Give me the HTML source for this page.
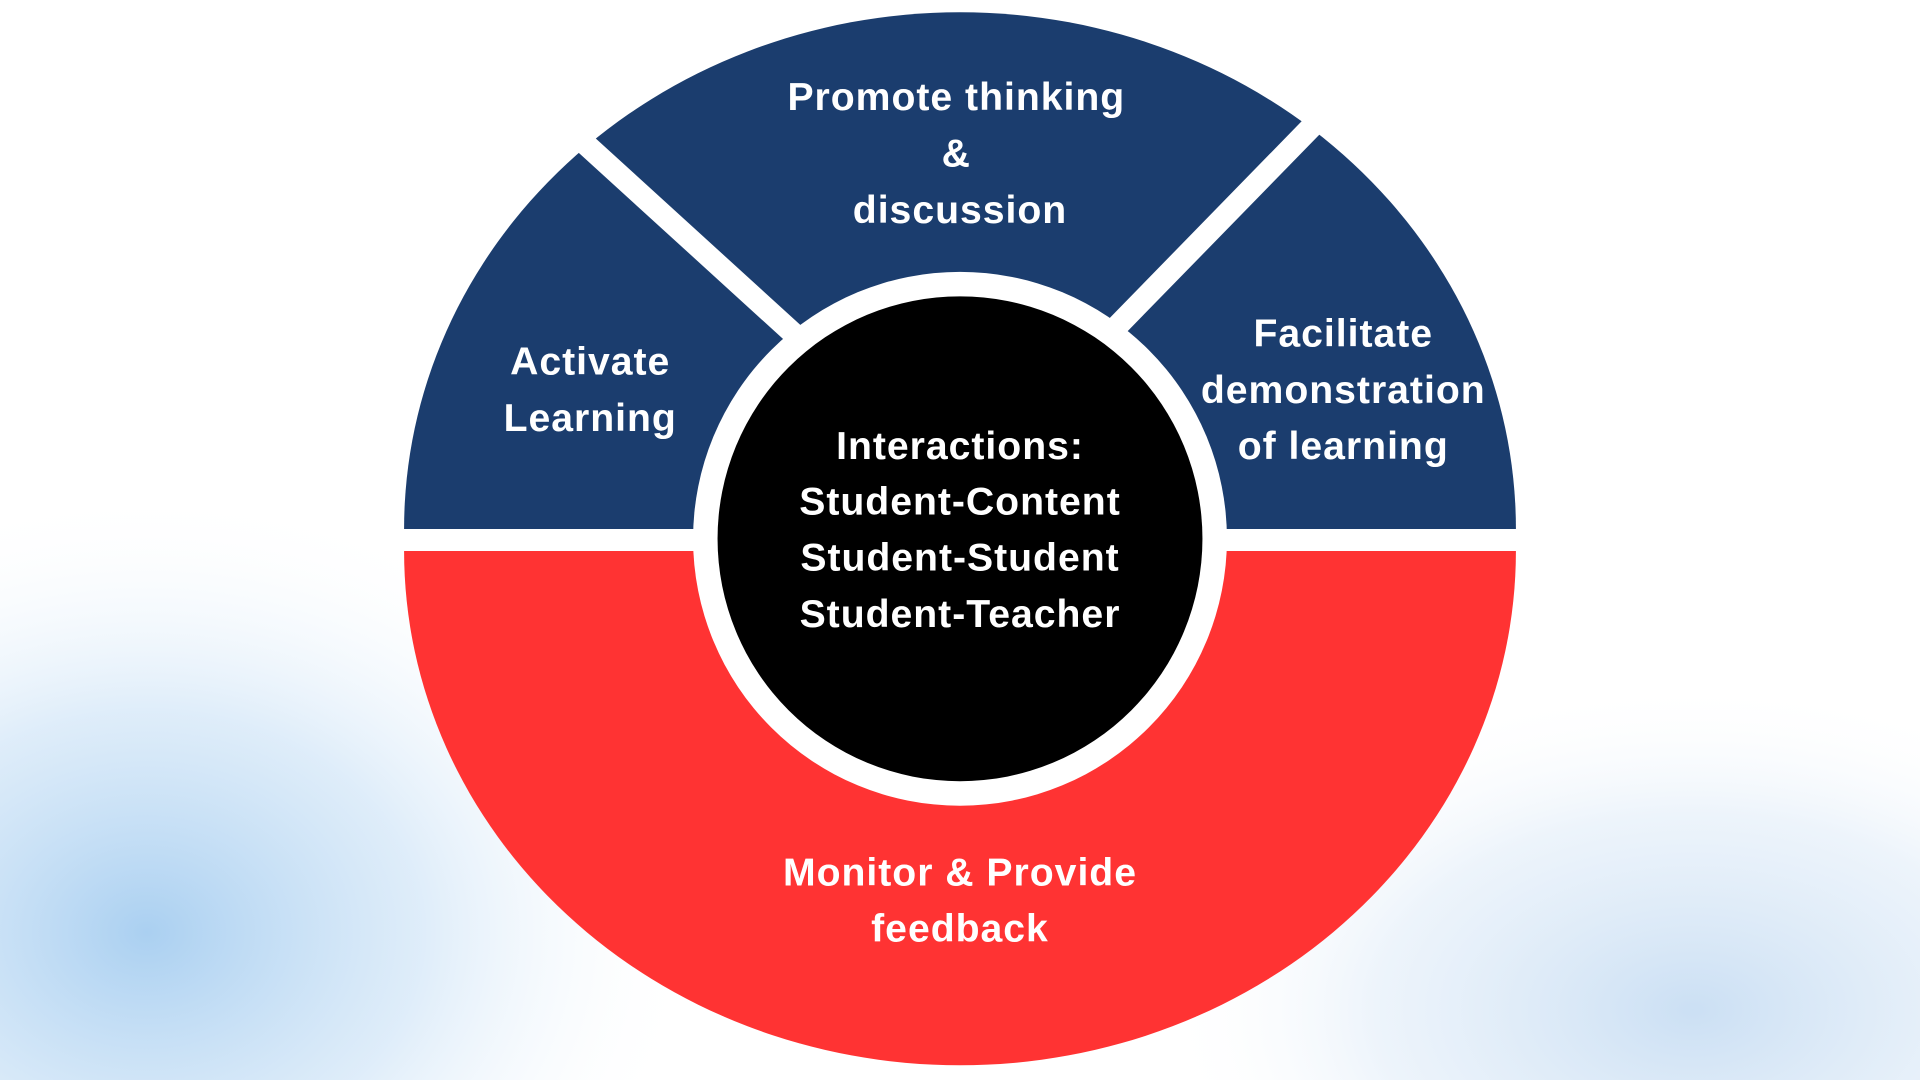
<!DOCTYPE html>
<html><head><meta charset="utf-8"><style>
html,body{margin:0;padding:0;width:1920px;height:1080px;overflow:hidden;background:#fff}
svg{display:block}
text{font-family:"Liberation Sans",sans-serif;font-weight:bold;fill:#fff;text-anchor:middle;letter-spacing:0.8px}
</style></head><body>
<svg width="1920" height="1080" viewBox="0 0 1568 882" xmlns="http://www.w3.org/2000/svg">
<defs>
<radialGradient id="bl" cx="0.2" cy="0.75" r="0.75">
<stop offset="0" stop-color="#8ec0ec" stop-opacity="0.75"/>
<stop offset="0.5" stop-color="#c4def5" stop-opacity="0.55"/>
<stop offset="1" stop-color="#ffffff" stop-opacity="0"/>
</radialGradient>
<radialGradient id="br" cx="0.7" cy="0.85" r="0.7">
<stop offset="0" stop-color="#b5d2ef" stop-opacity="0.7"/>
<stop offset="0.6" stop-color="#dbe9f7" stop-opacity="0.5"/>
<stop offset="1" stop-color="#ffffff" stop-opacity="0"/>
</radialGradient>
</defs>
<rect width="1568" height="882" fill="#fff"/>
<rect x="0" y="400" width="600" height="482" fill="url(#bl)"/>
<rect x="950" y="500" width="618" height="382" fill="url(#br)"/>
<path d="M330 432 A454 422 0 0 1 1238 432 Z" fill="#1b3d6e"/>
<path d="M330 450 A454 420 0 0 0 1238 450 Z" fill="#ff3333"/>
<line x1="450" y1="92" x2="720" y2="338" stroke="#fff" stroke-width="18"/>
<line x1="1100" y1="74" x2="860" y2="320" stroke="#fff" stroke-width="18"/>
<circle cx="784" cy="440" r="218" fill="#fff"/>
<circle cx="784" cy="440" r="198" fill="#000"/>
<g font-size="32">
<text x="781" y="90">Promote thinking</text>
<text x="781" y="136">&amp;</text>
<text x="784" y="182">discussion</text>
<text x="482" y="306">Activate</text>
<text x="482" y="352">Learning</text>
<text x="1097" y="283">Facilitate</text>
<text x="1097" y="329">demonstration</text>
<text x="1097" y="375">of learning</text>
<text x="784" y="375">Interactions:</text>
<text x="784" y="420">Student-Content</text>
<text x="784" y="466">Student-Student</text>
<text x="784" y="512">Student-Teacher</text>
<text x="784" y="723">Monitor &amp; Provide</text>
<text x="784" y="769">feedback</text>
</g>
</svg>
</body></html>
